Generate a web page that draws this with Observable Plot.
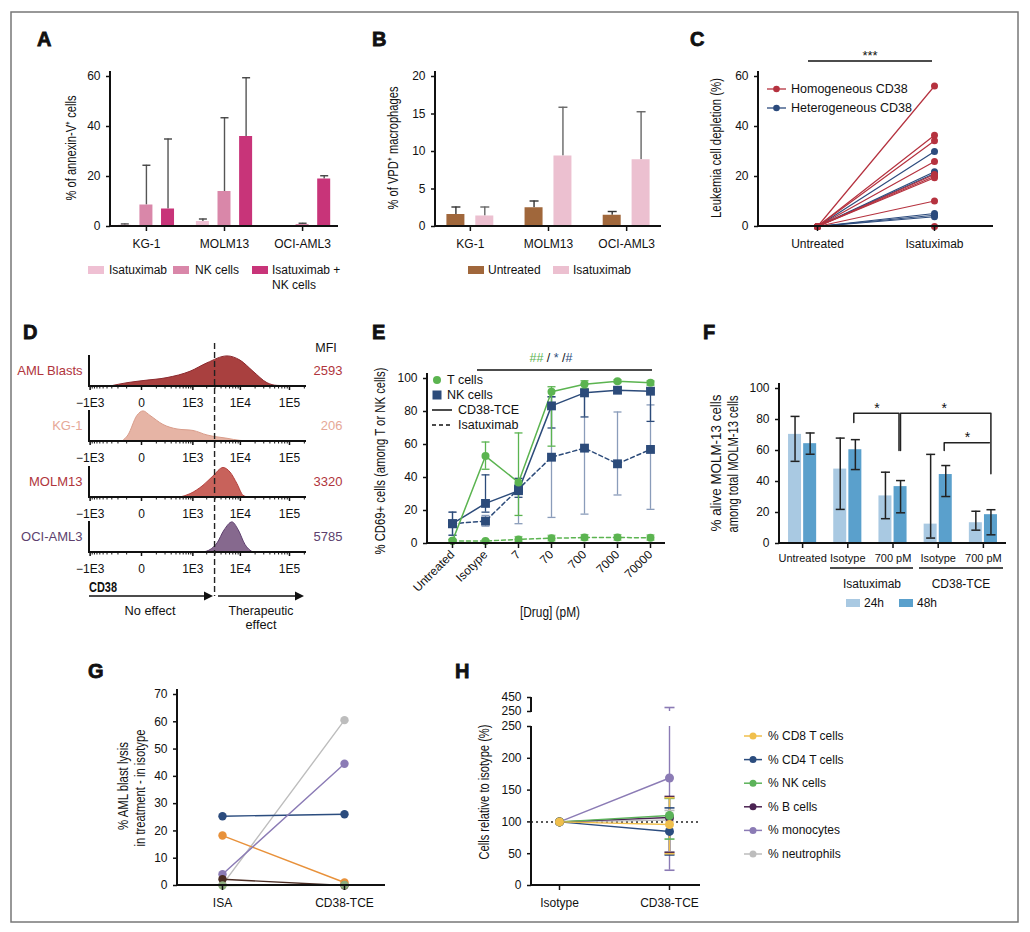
<!DOCTYPE html>
<html>
<head>
<meta charset="utf-8">
<script src="https://cdn.jsdelivr.net/npm/d3@7"></script>
<script src="https://cdn.jsdelivr.net/npm/@observablehq/plot@0.6"></script>
<style>
  body { margin: 0; background: #fff; }
  #fig { position: relative; width: 1030px; height: 932px; overflow: hidden; background: #fff; }
</style>
</head>
<body>
<div id="fig"></div>
<script>
// ---- A: annexin-V ----
const cellLines = ["KG-1", "MOLM13", "OCI-AML3"];
const aGroups = ["Isatuximab", "NK cells", "Isatuximab + NK cells"];
const aColors = ["#efc0d3", "#d987a9", "#c83479"];
const aIsa = [0.5, 2, 0], aIsaErr = [1, 3, 0];
const aNK = [8.6, 14, 0.8], aNKErr = [24.5, 43.5, 1.3];
const aBoth = [7, 36, 19], aBothErr = [35, 59.5, 20.3];

// ---- B: VPD+ macrophages ----
const bGroups = ["Untreated", "Isatuximab"];
const bColors = ["#a0673b", "#ecc0d0"];
const bUnt = [1.6, 2.5, 1.5], bUntErr = [2.6, 3.4, 2.0];
const bIsa = [1.4, 9.4, 8.9], bIsaErr = [2.6, 15.9, 15.3];

// ---- C: leukemia cell depletion ----
const cArms = ["Untreated", "Isatuximab"];
const cHomo = [56.2, 36.5, 34.3, 26, 20.8, 20.1, 19.5, 10.2, 0];
const cHetero = [30, 21.9, 21.2, 5.2, 4.5, 3.9];

// ---- D: CD38 histograms ----
const dSamples = ["AML Blasts", "KG-1", "MOLM13", "OCI-AML3"];
const dMfi = [2593, 206, 3320, 5785];
const dThreshold = 3000;
const dTicks = [-1000, 0, 1000, 1e4, 1e5];
const dTickLabels = ["\u22121E3", "0", "1E3", "1E4", "1E5"];
const dBlastX = [-325, -92, 10, 237, 885, 2078, 5440, 10070, 18560, 35750, 57100, 221300];
const dBlastY = [0, 0.11, 0.18, 0.28, 0.49, 0.77, 1, 0.86, 0.49, 0.11, 0.02, 0];
const dKg1X = [-143, -84, -21, 10, 52, 179, 437, 1033, 2078, 5440, 10070, 18560];
const dKg1Y = [0, 0.2, 0.85, 1, 0.85, 0.55, 0.4, 0.35, 0.2, 0.09, 0.02, 0];
const dMolmX = [518, 885, 1707, 2780, 4499, 6270, 8740, 11600, 14670];
const dMolmY = [0, 0.11, 0.39, 0.7, 0.98, 0.83, 0.44, 0.06, 0];
const dOciX = [1707, 2405, 3375, 4720, 6897, 9160, 12740, 16120, 18560];
const dOciY = [0, 0.08, 0.3, 0.73, 1, 0.75, 0.25, 0.06, 0];

// ---- E: CD69 activation ----
const eDoses = ["Untreated", "Isotype", "7", "70", "700", "7000", "70000"];
const eTtce = [1.6, 53, 37, 92, 96.5, 98.4, 97.4];
const eTtceLo = [0.5, 45, 17, 59, 94, 97.5, 96];
const eTtceHi = [2.5, 61.5, 67, 95, 98.6, 99.2, 98.5];
const eTisa = [1.6, 1.5, 2.5, 3.2, 3.6, 3.6, 3.5];
const eTisaLo = [0.5, 0.8, 1.2, 1.6, 2, 2, 2];
const eTisaHi = [2.5, 2.2, 4.2, 5, 5.4, 5.4, 5.2];
const eNKtce = [12, 24.3, 32, 83.4, 91.3, 92.9, 92.3];
const eNKtceLo = [5, 19, 28, 70, 76.7, 91, 74];
const eNKtceHi = [19, 41.6, 39.5, 89, 93.5, 94.5, 94];
const eNKisa = [12, 13.6, 33, 52.3, 57.8, 48.3, 57];
const eNKisaLo = [5, 10.5, 12, 15.8, 17.8, 29.4, 20.7];
const eNKisaHi = [19, 17, 36, 88.7, 97, 79.7, 84];

// ---- F: alive MOLM-13 ----
const fKeys = ["Untreated", "Isa Isotype", "Isa 700 pM", "TCE Isotype", "TCE 700 pM"];
const fTickLabels = ["Untreated", "Isotype", "700 pM", "Isotype", "700 pM"];
const fTimes = ["24h", "48h"];
const fColors = ["#a9c9e2", "#5aa0cc"];
const f24 = [70.4, 48, 30.7, 12.5, 13.4], f24Lo = [53, 22, 16, 3.5, 8.6], f24Hi = [82, 68, 46, 57.5, 20.8];
const f48 = [64.4, 60.5, 36.7, 44.5, 18.6], f48Lo = [57.6, 47.7, 19.8, 30.3, 5.6], f48Hi = [71.3, 67, 40.6, 50.3, 21.8];

// ---- G: AML blast lysis ----
const gArms = ["ISA", "CD38-TCE"];
const gIsa = [0.3, 25.4, 18.3, 4.1, 2.3, 0];
const gTce = [60.6, 26.1, 1.1, 44.6, 0, 0.2];
const gColors = ["#bdbdbd", "#2b4c7e", "#e8913a", "#8b7bb5", "#4a2c22", "#8fae7e"];

// ---- H: cells relative to isotype ----
const hArms = ["Isotype", "CD38-TCE"];
const hCells = ["% CD8 T cells", "% CD4 T cells", "% NK cells", "% B cells", "% monocytes", "% neutrophils"];
const hColors = ["#f0bf4c", "#2b4c7e", "#5cb35a", "#4b2352", "#8b7bb5", "#bdbdbd"];
const hIso = [100, 100, 100, 100, 100, 100];
const hTce = [96, 85, 110, 107, 169, 103];
const hTceLo = [50, 48, 73, 52, 24, 53];
const hTceHi = [138, 122, 137, 140, 307, 118];

// ------------------------------------------------------------
const FONT = '"Liberation Sans", Arial, Helvetica, sans-serif';
const style = {fontFamily: FONT, fontSize: "12px", color: "#111", background: "none", overflow: "visible"};
const fig = d3.select("#fig");
const navy = "#2c4b7a", green = "#5bb450";

const capSymbol = {draw(ctx, size) { const w = Math.sqrt(size / Math.PI); ctx.moveTo(-w, 0); ctx.lineTo(w, 0); }};

function plotAt(left, top, opts, {yLine = true, xLine = true, over = 5} = {}) {
  const svg = Plot.plot({style, ...opts});
  const l = opts.marginLeft, r = opts.width - opts.marginRight;
  const t = opts.marginTop, b = opts.height - opts.marginBottom;
  const g = d3.select(svg).append("g").attr("stroke", "#111").attr("stroke-width", 2);
  if (xLine) g.append("line").attr("x1", l - 1).attr("x2", r).attr("y1", b).attr("y2", b);
  if (yLine) g.append("line").attr("x1", l).attr("x2", l).attr("y1", t - over).attr("y2", b + 1);
  svg.style.position = "absolute";
  svg.style.left = left + "px";
  svg.style.top = top + "px";
  fig.node().appendChild(svg);
  return svg;
}
function bandWidth(range, n, pi, po) { return range / (n - pi + 2 * po) * (1 - pi); }
function slot(k, n, bw, barW) {
  const gap = n > 1 ? (bw - n * barW) / (n - 1) : 0;
  const left = k * (barW + gap);
  return {insetLeft: left, insetRight: bw - left - barW, dx: left + barW / 2 - bw / 2};
}

// ---------- A ----------
{
  const W = 320, mL = 80, mR = 12, pi = 0.28, po = 0.1;
  const bw = bandWidth(W - mL - mR, 3, pi, po);
  const means = [aIsa, aNK, aBoth], errs = [aIsaErr, aNKErr, aBothErr];
  const marks = [];
  aGroups.forEach((g, k) => {
    const rows = cellLines.map((line, i) => ({line, mean: means[k][i], hi: errs[k][i]}));
    const s = slot(k, 3, bw, 13);
    const eb = rows.filter(d => d.hi > d.mean);
    marks.push(Plot.ruleX(eb, {x: "line", y1: "mean", y2: "hi", dx: s.dx, stroke: "#555", strokeWidth: 1.4}));
    marks.push(Plot.dot(eb, {x: "line", y: "hi", dx: s.dx, symbol: capSymbol, r: 4, stroke: "#444", fill: "none", strokeWidth: 1.4}));
    marks.push(Plot.barY(rows, {x: "line", y: "mean", fill: aColors[k], insetLeft: s.insetLeft, insetRight: s.insetRight}));
  });
  plotAt(30, 56, {
    width: W, height: 200, marginLeft: mL, marginRight: mR, marginTop: 20, marginBottom: 30,
    x: {type: "band", domain: cellLines, paddingInner: pi, paddingOuter: po, round: false},
    y: {domain: [0, 60]},
    marks: [
      ...marks,
      Plot.axisY({ticks: [0, 20, 40, 60], tickSize: 4, tickPadding: 6, label: null, strokeWidth: 1.5}),
      Plot.axisX({tickSize: 5, tickPadding: 8, label: null, strokeWidth: 1.5})
    ]
  });
}

// ---------- B ----------
{
  const W = 315, mL = 80, mR = 9, pi = 0.4, po = 0.146;
  const bw = bandWidth(W - mL - mR, 3, pi, po);
  const means = [bUnt, bIsa], errs = [bUntErr, bIsaErr], errColors = ["#333", "#666"];
  const marks = [];
  bGroups.forEach((g, k) => {
    const rows = cellLines.map((line, i) => ({line, mean: means[k][i], hi: errs[k][i]}));
    const s = slot(k, 2, bw, 18);
    marks.push(Plot.ruleX(rows, {x: "line", y1: "mean", y2: "hi", dx: s.dx, stroke: errColors[k], strokeWidth: 1.4}));
    marks.push(Plot.dot(rows, {x: "line", y: "hi", dx: s.dx, symbol: capSymbol, r: 4.5, stroke: errColors[k], fill: "none", strokeWidth: 1.4}));
    marks.push(Plot.barY(rows, {x: "line", y: "mean", fill: bColors[k], insetLeft: s.insetLeft, insetRight: s.insetRight}));
  });
  plotAt(355, 56, {
    width: W, height: 200, marginLeft: mL, marginRight: mR, marginTop: 20, marginBottom: 30,
    x: {type: "band", domain: cellLines, paddingInner: pi, paddingOuter: po, round: false},
    y: {domain: [0, 20]},
    marks: [
      ...marks,
      Plot.axisY({ticks: [0, 5, 10, 15, 20], tickSize: 4, tickPadding: 6, label: null, strokeWidth: 1.5}),
      Plot.axisX({tickSize: 5, tickPadding: 8, label: null, strokeWidth: 1.5})
    ]
  });
}

// ---------- C ----------
{
  const rows = [];
  cHetero.forEach((v, i) => rows.push({id: "he" + i, arm: cArms[0], v: 0, c: "#2c4b7d"}, {id: "he" + i, arm: cArms[1], v, c: "#2c4b7d"}));
  cHomo.forEach((v, i) => rows.push({id: "ho" + i, arm: cArms[0], v: 0, c: "#b5323f"}, {id: "ho" + i, arm: cArms[1], v, c: "#b5323f"}));
  plotAt(690, 40, {
    width: 320, height: 220, marginLeft: 68, marginRight: 17, marginTop: 36, marginBottom: 34,
    x: {type: "point", domain: cArms, padding: 0.5},
    y: {domain: [0, 60]},
    color: {type: "identity"},
    marks: [
      Plot.line(rows, {x: "arm", y: "v", z: "id", stroke: "c", strokeWidth: 1.2}),
      Plot.dot(rows, {x: "arm", y: "v", fill: "c", r: 3.5}),
      Plot.axisY({ticks: [0, 20, 40, 60], tickSize: 4, tickPadding: 6, label: null, strokeWidth: 1.5}),
      Plot.axisX({tickSize: 5, tickPadding: 8, label: null, strokeWidth: 1.5})
    ]
  });
}

// ---------- D ----------
const dMinor = [
  ...d3.range(-900, 0, 100), ...d3.range(100, 1000, 100),
  ...d3.range(2000, 10000, 1000), ...d3.range(20000, 100000, 10000), 200000
];
const dCurves = [[dBlastX, dBlastY], [dKg1X, dKg1Y], [dMolmX, dMolmY], [dOciX, dOciY]];
const dFill = ["#a9403f", "#e6b4a5", "#c8625b", "#86698e"];
const dStroke = ["#8c2a2f", "#d99c8a", "#b4403d", "#5e3f6e"];
const dLabelColors = ["#b0353c", "#e6a897", "#b0353c", "#5d3f6e"];
const dBase = [386, 441, 497, 552];
let dPlot;
dCurves.forEach(([xs, ys], i) => {
  const rows = xs.map((x, j) => ({x, y: ys[j]}));
  const p = plotAt(10, dBase[i] - 36, {
    width: 340, height: 58, marginLeft: 79, marginRight: 44, marginTop: 5, marginBottom: 22,
    x: {type: "symlog", constant: 100, domain: [-1033, 221300]},
    y: {domain: [0, 1.03], axis: null},
    marks: [
      Plot.areaY(rows, {x: "x", y: "y", curve: "monotone-x", fill: dFill[i], stroke: dStroke[i], strokeWidth: 1}),
      Plot.axisX({ticks: dMinor, tickSize: 2.5, tickFormat: () => "", strokeWidth: 1, label: null}),
      Plot.axisX({ticks: dTicks, tickFormat: d => dTickLabels[dTicks.indexOf(d)], tickSize: 4, tickPadding: 8, strokeWidth: 1.5, label: null}),
      Plot.text([dSamples[i]], {text: d => d, frameAnchor: "left", dx: -7, textAnchor: "end", fill: dLabelColors[i], fontSize: 13}),
      Plot.text([dMfi[i]], {text: d => `${d}`, frameAnchor: "right", dx: 36, textAnchor: "end", fill: dLabelColors[i], fontSize: 13})
    ]
  }, {over: 0});
  if (i === 0) dPlot = p;
});

// ---------- E ----------
{
  const series = [
    {m: eNKisa, lo: eNKisaLo, hi: eNKisaHi, c: navy, ec: "#8a9cba", dash: "4,3", sym: "square", r: 5},
    {m: eTisa, lo: eTisaLo, hi: eTisaHi, c: green, ec: "#8fcc86", dash: "4,3", sym: "circle", r: 4},
    {m: eNKtce, lo: eNKtceLo, hi: eNKtceHi, c: navy, ec: navy, dash: null, sym: "square", r: 5},
    {m: eTtce, lo: eTtceLo, hi: eTtceHi, c: green, ec: green, dash: null, sym: "circle", r: 4}
  ];
  const errMarks = [], lineMarks = [], dotMarks = [];
  series.forEach(s => {
    const rows = eDoses.map((dose, i) => ({dose, v: s.m[i], lo: s.lo[i], hi: s.hi[i]}));
    errMarks.push(
      Plot.ruleX(rows, {x: "dose", y1: "lo", y2: "hi", stroke: s.ec, strokeWidth: 1.3}),
      Plot.dot(rows, {x: "dose", y: "lo", symbol: capSymbol, r: 4, stroke: s.ec, fill: "none", strokeWidth: 1.3}),
      Plot.dot(rows, {x: "dose", y: "hi", symbol: capSymbol, r: 4, stroke: s.ec, fill: "none", strokeWidth: 1.3})
    );
    lineMarks.push(Plot.line(rows, {x: "dose", y: "v", stroke: s.c, strokeWidth: 1.5, strokeDasharray: s.dash}));
    dotMarks.push(Plot.dot(rows, {x: "dose", y: "v", fill: s.c, symbol: s.sym, r: s.r}));
  });
  plotAt(355, 345, {
    width: 325, height: 280, marginLeft: 72, marginRight: 15, marginTop: 33, marginBottom: 82,
    x: {type: "point", domain: eDoses, range: [94, 297], padding: 0},
    y: {domain: [0, 100]},
    marks: [
      ...errMarks, ...lineMarks, ...dotMarks,
      Plot.axisY({ticks: [0, 20, 40, 60, 80, 100], tickSize: 4, tickPadding: 6, label: null, strokeWidth: 1.5}),
      Plot.axisX({tickSize: 5, tickPadding: 4, tickRotate: -45, label: null, strokeWidth: 1.5})
    ]
  });
}

// ---------- F ----------
{
  const W = 330, mL = 89, mR = 14, pi = 0.378, po = 0.2;
  const bw = bandWidth(W - mL - mR, 5, pi, po);
  const sets = [[f24, f24Lo, f24Hi], [f48, f48Lo, f48Hi]];
  const bars = [], errs = [];
  fTimes.forEach((t, k) => {
    const [m, lo, hi] = sets[k];
    const rows = fKeys.map((key, i) => ({key, v: m[i], lo: lo[i], hi: hi[i]}));
    const s = slot(k, 2, bw, 13);
    bars.push(Plot.barY(rows, {x: "key", y: "v", fill: fColors[k], insetLeft: s.insetLeft, insetRight: s.insetRight}));
    errs.push(
      Plot.ruleX(rows, {x: "key", y1: "lo", y2: "hi", dx: s.dx, stroke: "#222", strokeWidth: 1.5}),
      Plot.dot(rows, {x: "key", y: "lo", dx: s.dx, symbol: capSymbol, r: 4.5, stroke: "#222", fill: "none", strokeWidth: 1.5}),
      Plot.dot(rows, {x: "key", y: "hi", dx: s.dx, symbol: capSymbol, r: 4.5, stroke: "#222", fill: "none", strokeWidth: 1.5})
    );
  });
  const brackets = [
    {x: ["Isa Isotype", "Isa Isotype", "Isa 700 pM", "Isa 700 pM"], y: [78, 84, 84, 60], dx: 6},
    {x: ["Isa 700 pM", "Isa 700 pM", "TCE 700 pM", "TCE 700 pM"], y: [60, 84, 84, 45], dx: 7.5},
    {x: ["TCE Isotype", "TCE Isotype", "TCE 700 pM"], y: [60, 65, 65], dx: 6}
  ];
  const bracketMarks = brackets.map(b => Plot.line(b.x.map((x, i) => ({x, y: b.y[i]})), {x: "x", y: "y", dx: b.dx, stroke: "#222", strokeWidth: 1.5}));
  plotAt(690, 360, {
    width: W, height: 250, marginLeft: mL, marginRight: mR, marginTop: 28, marginBottom: 67,
    x: {type: "band", domain: fKeys, paddingInner: pi, paddingOuter: po, round: false},
    y: {domain: [0, 100]},
    marks: [
      ...bars, ...errs, ...bracketMarks,
      Plot.text([{x: "Isa 700 pM", y: 87}, {x: "TCE 700 pM", y: 68.4}], {x: "x", y: "y", text: () => "*", dx: -16, fontSize: 14}),
      Plot.text([{x: "TCE Isotype", y: 87}], {x: "x", y: "y", text: () => "*", dx: 6, fontSize: 14}),
      Plot.axisY({ticks: [0, 20, 40, 60, 80, 100], tickSize: 4, tickPadding: 6, label: null, strokeWidth: 1.5}),
      Plot.axisX({tickSize: 5, tickPadding: 6, label: null, strokeWidth: 1.5, fontSize: 11, tickFormat: d => fTickLabels[fKeys.indexOf(d)]})
    ]
  });
}

// ---------- G ----------
{
  const rows = gColors.flatMap((c, k) => [{id: k, arm: gArms[0], v: gIsa[k], c}, {id: k, arm: gArms[1], v: gTce[k], c}]);
  plotAt(90, 665, {
    width: 310, height: 245, marginLeft: 87, marginRight: 15, marginTop: 29, marginBottom: 25,
    x: {type: "point", domain: gArms, range: [132, 254], padding: 0},
    y: {domain: [0, 70]},
    color: {type: "identity"},
    marks: [
      Plot.line(rows, {x: "arm", y: "v", z: "id", stroke: "c", strokeWidth: 1.4}),
      Plot.dot(rows, {x: "arm", y: "v", fill: "c", r: 4.2}),
      Plot.axisY({ticks: d3.range(0, 71, 10), tickSize: 4, tickPadding: 6, label: null, strokeWidth: 1.5}),
      Plot.axisX({tickSize: 5, tickPadding: 8, label: null, strokeWidth: 1.5})
    ]
  });
}

// ---------- H ----------
{
  const order = [5, 4, 3, 2, 1, 0];
  const rows = order.flatMap(k => [
    {id: k, arm: hArms[0], v: hIso[k], c: hColors[k]},
    {id: k, arm: hArms[1], v: hTce[k], lo: hTceLo[k], hi: hTceHi[k], c: hColors[k]}
  ]);
  const errRows = rows.filter(d => d.arm === hArms[1]);
  plotAt(455, 700, {
    width: 265, height: 210, marginLeft: 76, marginRight: 20, marginTop: 26, marginBottom: 25,
    x: {type: "point", domain: hArms, range: [104, 214], padding: 0},
    y: {domain: [0, 250]},
    color: {type: "identity"},
    marks: [
      Plot.ruleY([100], {stroke: "#222", strokeWidth: 1.5, strokeDasharray: "2,3"}),
      Plot.ruleX(errRows, {x: "arm", y1: "lo", y2: "hi", stroke: "c", strokeWidth: 1.4, clip: true}),
      Plot.dot(errRows, {x: "arm", y: "lo", symbol: capSymbol, r: 5, stroke: "c", fill: "none", strokeWidth: 1.6}),
      Plot.dot(errRows.filter(d => d.hi <= 250), {x: "arm", y: "hi", symbol: capSymbol, r: 5, stroke: "c", fill: "none", strokeWidth: 1.6}),
      Plot.line(rows, {x: "arm", y: "v", z: "id", stroke: "c", strokeWidth: 1.4}),
      Plot.dot(rows, {x: "arm", y: "v", fill: "c", r: 4.5}),
      Plot.axisY({ticks: [0, 50, 100, 150, 200, 250], tickSize: 4, tickPadding: 6, label: null, strokeWidth: 1.5}),
      Plot.axisX({tickSize: 5, tickPadding: 8, label: null, strokeWidth: 1.5})
    ]
  }, {over: 0});
  const upper = errRows.filter(d => d.hi > 250).map(d => ({...d, lo: 250}));
  plotAt(455, 690, {
    width: 265, height: 25, marginLeft: 76, marginRight: 20, marginTop: 7, marginBottom: 4,
    x: {type: "point", domain: hArms, range: [104, 214], padding: 0, axis: null},
    y: {domain: [250, 450]},
    color: {type: "identity"},
    marks: [
      Plot.ruleX(upper, {x: "arm", y1: "lo", y2: "hi", stroke: "c", strokeWidth: 1.4}),
      Plot.dot(upper, {x: "arm", y: "hi", symbol: capSymbol, r: 5, stroke: "c", fill: "none", strokeWidth: 1.6}),
      Plot.axisY({ticks: [250, 450], tickSize: 4, tickPadding: 6, label: null, strokeWidth: 1.5})
    ]
  }, {xLine: false, over: 0});
}

// ---------- decorations: frame, panel letters, titles, legends ----------
const ov = fig.append("svg").attr("width", 1030).attr("height", 932)
  .style("position", "absolute").style("left", "0px").style("top", "0px")
  .style("font-family", FONT).style("font-size", "12px");
function txt(x, y, s, o = {}) {
  const t = ov.append("text").attr("x", x).attr("y", y).attr("dominant-baseline", "central")
    .attr("text-anchor", o.anchor || "start").attr("fill", o.fill || "#111")
    .style("font-size", o.size || "12px").style("font-family", FONT)
    .style("font-weight", o.weight || null).text(s);
  if (o.len) t.attr("textLength", o.len).attr("lengthAdjust", "spacingAndGlyphs");
  return t;
}
// narrow (condensed-looking) titles: squeeze to the measured length
function vtitle(x, y, s, len) {
  return txt(0, 0, s, {anchor: "middle", size: "14px", len}).attr("transform", `translate(${x},${y}) rotate(-90)`);
}
function line(x1, y1, x2, y2, o = {}) {
  return ov.append("line").attr("x1", x1).attr("y1", y1).attr("x2", x2).attr("y2", y2)
    .attr("stroke", o.stroke || "#111").attr("stroke-width", o.w || 1.5).attr("stroke-dasharray", o.dash || null);
}
ov.append("rect").attr("x", 11).attr("y", 12).attr("width", 1007).attr("height", 910)
  .attr("fill", "none").attr("stroke", "#777").attr("stroke-width", 1.5);
[["A", 37, 39], ["B", 372, 39], ["C", 690, 39], ["D", 23, 332], ["E", 372, 332], ["F", 703, 332], ["G", 88, 671], ["H", 455, 671]]
  .forEach(([s, x, y]) => txt(x, y, s, {size: "20px", weight: "bold"}).attr("stroke", "#111").attr("stroke-width", 0.8));

// axis titles
vtitle(71, 148, "% of annexin-V\u207A cells", 105);
vtitle(393, 148, "% of VPD\u207A macrophages", 123);
vtitle(716, 148, "Leukemia cell depletion (%)", 140);
vtitle(380, 461, "% CD69+ cells (among T or NK cells)", 187);
vtitle(716, 463, "% alive MOLM-13 cells", 137);
vtitle(733, 464, "among total MOLM-13 cells", 137);
vtitle(123, 786, "% AML blast lysis", 88);
vtitle(140, 788, "in treatment - in isotype", 117);
vtitle(484, 792, "Cells relative to isotype (%)", 135);
txt(550, 612, "[Drug] (pM)", {anchor: "middle", size: "14px", len: 60});

// A legend
[88, 173, 252].forEach((sx, k) => {
  ov.append("rect").attr("x", sx).attr("y", 266).attr("width", 16).attr("height", 8).attr("fill", aColors[k]);
});
txt(109, 270, "Isatuximab"); txt(195, 270, "NK cells"); txt(272, 270, "Isatuximab +"); txt(272, 285, "NK cells");
// B legend
[[468, 488], [553, 573]].forEach(([sx, tx], k) => {
  ov.append("rect").attr("x", sx).attr("y", 266).attr("width", 16).attr("height", 8).attr("fill", bColors[k]);
  txt(tx, 270, bGroups[k]);
});
// C legend + significance
[["Homogeneous CD38", "#b5323f", 89], ["Heterogeneous CD38", "#2c4b7d", 108]].forEach(([s, c, y]) => {
  line(767, y, 786, y, {stroke: c, w: 1.3});
  ov.append("circle").attr("cx", 776.5).attr("cy", y).attr("r", 3.3).attr("fill", c);
  txt(791, y, s, {size: "12.5px"});
});
line(808, 61, 932, 61, {w: 1.4});
txt(870, 55, "***", {anchor: "middle", size: "13px"});

// D decorations
txt(326, 348, "MFI", {anchor: "middle", size: "12.5px"});
{
  const tx = 10 + dPlot.scale("x").apply(dThreshold);
  line(tx, 343, tx, 596, {dash: "6,3", w: 1.4, stroke: "#222"});
}
txt(89, 587, "CD38", {size: "14px", weight: "bold", len: 28});
line(89, 596, 205, 596, {w: 1.5});
ov.append("path").attr("d", "M204,591.5 L213,596 L204,600.5 Z").attr("fill", "#111");
line(218, 596, 296, 596, {w: 1.5});
ov.append("path").attr("d", "M295,591.5 L304,596 L295,600.5 Z").attr("fill", "#111");
txt(150, 610, "No effect", {anchor: "middle", size: "13.5px", len: 51});
txt(261, 610, "Therapeutic", {anchor: "middle", size: "13.5px", len: 65});
txt(261, 624, "effect", {anchor: "middle", size: "13.5px", len: 31});

// E legend + significance
ov.append("circle").attr("cx", 437).attr("cy", 380).attr("r", 4).attr("fill", green);
txt(447, 380, "T cells", {size: "12.5px"});
ov.append("rect").attr("x", 432.5).attr("y", 390.5).attr("width", 9).attr("height", 9).attr("fill", navy);
txt(447, 395, "NK cells", {size: "12.5px"});
line(432, 410, 452, 410, {w: 1.5});
txt(458, 410, "CD38-TCE", {size: "12.5px"});
line(432, 425, 452, 425, {w: 1.5, dash: "4,3"});
txt(458, 425, "Isatuximab", {size: "12.5px"});
line(477, 370, 652, 370, {w: 1.4});
{
  const t = txt(551, 358, "", {anchor: "middle", size: "12.5px"});
  [["##", green], [" / ", "#111"], ["*", navy], [" /", "#111"], ["#", navy]]
    .forEach(([s, c]) => t.append("tspan").attr("fill", c).text(s));
}

// F group labels + legend
line(830, 568, 913, 568, {w: 1.4});
line(919, 568, 1003, 568, {w: 1.4});
txt(872, 584, "Isatuximab", {anchor: "middle"});
txt(961, 584, "CD38-TCE", {anchor: "middle"});
[[846, 864], [899, 917]].forEach(([sx, tx], k) => {
  ov.append("rect").attr("x", sx).attr("y", 599).attr("width", 14).attr("height", 8).attr("fill", fColors[k]);
  txt(tx, 603, fTimes[k]);
});

// H legend
hCells.forEach((s, k) => {
  const y = 736 + k * 23.6;
  line(744, y, 762, y, {stroke: hColors[k], w: 1.5});
  ov.append("circle").attr("cx", 753).attr("cy", y).attr("r", 3.5).attr("fill", hColors[k]);
  txt(768, y, s);
});
</script>
</body>
</html>
